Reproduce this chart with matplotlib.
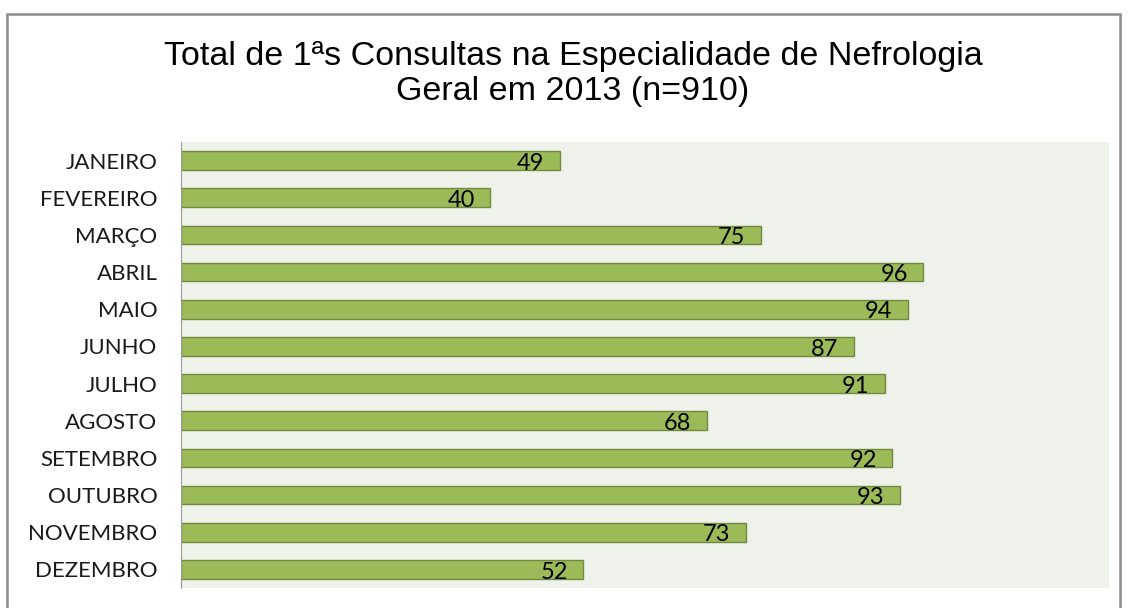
import matplotlib
matplotlib.use('Agg')
import matplotlib.pyplot as plt
from matplotlib.patches import Rectangle

meses = ['JANEIRO', 'FEVEREIRO', 'MARÇO', 'ABRIL', 'MAIO', 'JUNHO', 'JULHO',
         'AGOSTO', 'SETEMBRO', 'OUTUBRO', 'NOVEMBRO', 'DEZEMBRO']
consultas = [49, 40, 75, 96, 94, 87, 91, 68, 92, 93, 73, 52]
titulo = 'Total de 1ªs Consultas na Especialidade de Nefrologia\nGeral em 2013 (n=910)'

W, H = 1128, 608
fig = plt.figure(figsize=(W / 100, H / 100), dpi=100)

# moldura exterior
fig.patches.append(Rectangle((7 / W, -0.05), (1120 - 7) / W, 1.05 - 14 / H,
                             transform=fig.transFigure, fill=False,
                             edgecolor='#8c8c8c', linewidth=1.8))

ax = fig.add_axes([181 / W, 1 - 588 / H, (1109 - 181) / W, (588 - 142) / H])
ax.set_facecolor('#eff2ea')

y = list(range(len(meses)))
ax.barh(y, consultas, height=0.5, color='#9bbb59', edgecolor='#71893f', linewidth=1)
ax.set_xlim(0, 120)
ax.set_ylim(len(meses) - 0.5, -0.5)

for yi, v in zip(y, consultas):
    ax.text(v - 2.0, yi + 0.07, str(v), ha='right', va='center',
            fontsize=17, family='Lato', color='black')

ax.set_yticks(y)
ax.set_yticklabels(meses, fontsize=16, family='Lato', color='#1a1a1a')
ax.tick_params(axis='y', length=0, pad=17)
ax.set_xticks([])
for s in ['top', 'right', 'bottom']:
    ax.spines[s].set_visible(False)
ax.spines['left'].set_color('#9a9a9a')

fig.text(573 / W, 1 - 74 / H, titulo, ha='center', va='center', fontsize=24.5,
         family='Liberation Sans', linespacing=1.2, color='black')

fig.savefig('out.png', dpi=100)
